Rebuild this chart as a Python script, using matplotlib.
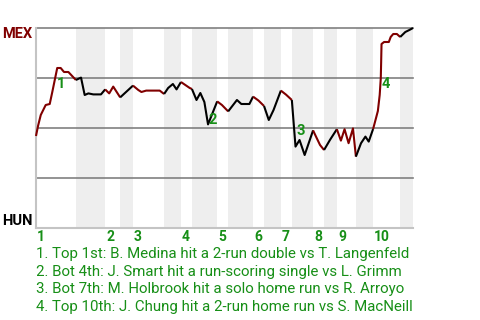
import matplotlib
matplotlib.use("Agg")
import matplotlib.pyplot as plt

plt.rcParams['font.family'] = ['Roboto', 'DejaVu Sans']

# win probability for MEX after each play (x = play number)
plays = [0.0, 0.55, 1.3, 2.65, 3.75, 4.45, 5.8, 6.75, 7.65, 8.85, 10.9,
         12.3, 13.3, 14.3, 15.65, 17.75, 18.9,
         20.0, 21.1, 23.0,
         26.5,
         27.95, 28.8, 30.1, 33.8, 35.0,
         36.1, 37.4, 38.4, 39.6,
         42.0, 42.6,
         43.85, 44.9, 46.0, 47.0, 49.5,
         50.8, 52.5,
         54.9, 56.1, 58.3, 59.3,
         60.8, 62.3,
         63.6, 64.9, 66.9,
         68.3, 69.9,
         70.9, 72.0, 73.4, 75.7,
         76.5, 77.6, 78.7,
         80.3, 82.2,
         83.3, 84.3, 85.4, 86.6, 87.4,
         88.8, 90.0, 90.9, 92.1,
         92.9, 93.4, 93.9, 94.2, 94.3, 94.4, 95.1, 96.4, 96.9, 97.6, 98.6, 99.5,
         100.9, 102.0, 103.0]
win_prob = [0.46, 0.51, 0.565, 0.615, 0.62, 0.68, 0.80, 0.80, 0.78, 0.78, 0.74,
            0.752, 0.665, 0.673, 0.668, 0.668, 0.693,
            0.673, 0.707, 0.653,
            0.712,
            0.69, 0.68, 0.687, 0.687, 0.67,
            0.70, 0.72, 0.693, 0.73,
            0.70, 0.695,
            0.64, 0.675, 0.63, 0.518, 0.633,
            0.615, 0.583,
            0.64, 0.62, 0.62, 0.657,
            0.637, 0.61,
            0.54, 0.59, 0.687,
            0.667, 0.64,
            0.407, 0.44, 0.365, 0.488,
            0.457, 0.415, 0.39,
            0.44, 0.494,
            0.437, 0.494, 0.424, 0.498, 0.357,
            0.424, 0.457, 0.432, 0.495,
            0.55, 0.585, 0.665, 0.75, 0.83, 0.92, 0.93, 0.93, 0.955, 0.97, 0.97, 0.955,
            0.98, 0.99, 1.0]

# play number where each half inning starts (top 1st, bot 1st, top 2nd, ...)
half_starts = [0, 10.9, 18.9, 23.0, 26.5, 35.0, 39.6, 42.6, 49.5, 52.5, 59.3,
               62.3, 66.9, 69.9, 75.7, 78.7, 82.2, 87.4, 92.1, 99.5, 103.0]
innings = ['1', '2', '3', '4', '5', '6', '7', '8', '9', '10']

events = ['1. Top 1st: B. Medina hit a 2-run double vs T. Langenfeld',
          '2. Bot 4th: J. Smart hit a run-scoring single vs L. Grimm',
          '3. Bot 7th: M. Holbrook hit a solo home run vs R. Arroyo',
          '4. Top 10th: J. Chung hit a 2-run home run vs S. MacNeill']
event_marks = ['1', '2', '3', '4']
event_x = [6.7, 48.4, 72.4, 95.5]
event_y = [0.72, 0.54, 0.485, 0.718]

green = '#178f17'

fig = plt.figure(figsize=(4.8, 3.2), dpi=100)
ax = fig.add_axes([36/480, 1-228/320, 377/480, 200/320])
ax.set_xlim(half_starts[0], half_starts[-1])
ax.set_ylim(0, 1)

for i in range(len(half_starts) - 1):
    a, b = half_starts[i], half_starts[i+1]
    if i % 2 == 1:
        ax.axvspan(a, b, color='#eeeeee', lw=0, zorder=0)
    xs = [x for x in plays if a - 1e-6 <= x <= b + 1e-6]
    ys = [win_prob[plays.index(x)] for x in xs]
    ax.plot(xs, ys, color='#800000' if i % 2 == 0 else 'black',
            lw=1.5, zorder=3, clip_on=False, solid_capstyle='butt')

for y in [0.25, 0.5, 0.75, 1.0]:
    ax.axhline(y, color='#808080', lw=1.2, zorder=1, clip_on=False)

for s in ['top', 'right']:
    ax.spines[s].set_visible(False)
for s in ['left', 'bottom']:
    ax.spines[s].set_color('#c4c4c4')
    ax.spines[s].set_linewidth(1.5)
ax.set_xticks([])
ax.set_yticks([])

for k, lab in enumerate(innings):
    ax.text(half_starts[2*k] + 0.3, -0.045, lab, transform=ax.get_xaxis_transform(),
            ha='left', va='center', color=green, fontsize=10, fontweight='bold')

for m, x, y in zip(event_marks, event_x, event_y):
    ax.text(x, y, m, ha='center', va='center', color=green, fontsize=10.5,
            fontweight='bold', zorder=4)

fig.text(32/480, 1-34.5/320, 'MEX', ha='right', va='center', color='#800000',
         fontsize=10.5, fontweight='bold')
fig.text(33/480, 1-221/320, 'HUN', ha='right', va='center', color='black',
         fontsize=10.5, fontweight='bold')

for j, t in enumerate(events):
    fig.text(36/480, 1-(254 + 17.6*j)/320, t, ha='left', va='center',
             color=green, fontsize=10.8)

fig.savefig('out.png', dpi=100)
